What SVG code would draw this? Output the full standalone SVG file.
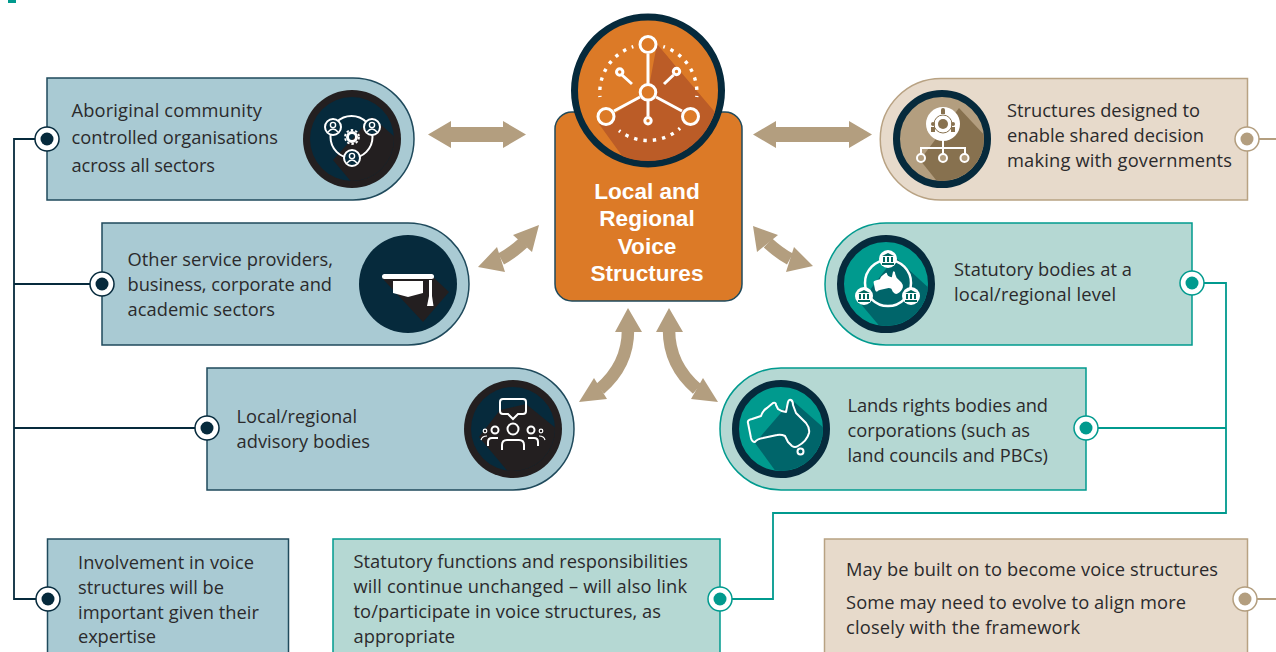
<svg xmlns="http://www.w3.org/2000/svg" width="1276" height="652" viewBox="0 0 1276 652">
<style>
text{font-family:"Open Sans","Noto Sans","Liberation Sans",sans-serif;font-size:18.3px;fill:#2b2a2c}
text.ct{font-family:"Liberation Sans",Arial,sans-serif;font-weight:700;font-size:22.6px;fill:#fff;text-anchor:middle}
.blue{fill:#a9cad3;stroke:#1f4a5c;stroke-width:1.5}
.teal{fill:#b5d8d3;stroke:#009a8e;stroke-width:1.5}
.tan{fill:#e7dacb;stroke:#b8a283;stroke-width:1.5}
.cn{fill:none;stroke-width:1.8}
.cd{stroke:#062a3c}.ct2{stroke:#009a8e}.cb{stroke:#b39e7f}
.w{fill:none;stroke:#fff;stroke-width:2}
.wf{fill:#fff}
.arr{fill:#b39e7f}
.as{fill:none;stroke:#b39e7f;stroke-width:12.500}
.ring{fill:#fff;stroke-width:1.500}
.dots{fill:none;stroke:#fff;stroke-width:3.400;stroke-dasharray:3.400 6;stroke-dashoffset:1.700}
</style>
<defs>
<clipPath id="c1"><circle cx="352" cy="139" r="42"/></clipPath>
<clipPath id="c2"><circle cx="408" cy="284" r="49"/></clipPath>
<clipPath id="c3"><circle cx="513" cy="429" r="42"/></clipPath>
<clipPath id="c4"><circle cx="942" cy="139" r="42"/></clipPath>
<clipPath id="c5"><circle cx="886" cy="284" r="42"/></clipPath>
<clipPath id="c6"><circle cx="781" cy="429" r="42"/></clipPath>
<clipPath id="c7"><circle cx="648" cy="91" r="70"/></clipPath>
<path id="aus" d="M748 423 Q747 420 752 419 L761 416 Q763 410 767 408 L773 403 Q776 402 776 405 L778 409 Q782 412 786 412 L788 402 Q789 399 791 400 Q793 401 793 405 L796 413 L806 423 Q810 428 809 433 Q807 441 798 446 Q795 448 792 446 L788 442 L785 436 Q781 434 777 435 L763 438 Q757 439 755 442 Q752 442 751 438 L750 433 Z"/>
<g id="bank"><circle r="9" fill="#fff"/><path d="M-6 -3 L0 -6 L6 -3 Z M-6 4 H6 V6 H-6 Z M-5 -2 H-3 V3 H-5 Z M-1 -2 H1 V3 H-1 Z M3 -2 H5 V3 H3 Z" fill="#00665f"/></g>
<g id="person"><circle r="8" fill="#062a3c" stroke="#fff" stroke-width="2"/><circle cy="-2" r="2.600" fill="none" stroke="#fff" stroke-width="1.400"/><path d="M-5 5 Q0 -1 5 5" fill="none" stroke="#fff" stroke-width="1.400"/></g>
</defs>

<rect x="8" y="0" width="8" height="3" fill="#009a8e"/>

<g id="connectors">
<path class="cn cd" d="M47 139 H14 V599 H48 M14 284 H102 M14 428 H207"/>
<path class="cn ct2" d="M1192 283 H1226 V513 H773 V599 H720 M1086 428 H1226"/>
<path class="cn cb" d="M1247 139 H1276 M1245 599 H1276"/>
<g id="arrows">
<path class="arr" d="M428 134.500 L451 121 V127 H503 V121 L526 134.500 L503 148 V142 H451 V148 Z"/>
<path class="arr" d="M753 134.500 L776 121 V127 H849 V121 L872 134.500 L849 148 V142 H776 V148 Z"/>
<path class="as" d="M523 243 Q512 253 501 259"/><path class="arr" d="M539 225 L532 252 L513 235 Z M478 267 L497 247 L505 272 Z"/>
<path class="as" d="M768 243 Q779 253 790 259"/><path class="arr" d="M753 226 L757 252 L778 235 Z M813 266 L794 247 L786 272 Z"/>
<path class="as" d="M628 330 Q628 365 600 389"/><path class="arr" d="M628 308 L642 332 H615 Z M579 402 L594 378 L607 399 Z"/>
<path class="as" d="M669 330 Q669 365 697 389"/><path class="arr" d="M669 308 L683 332 H656 Z M718 402 L703 378 L691 399 Z"/>
</g>
</g>

<g id="node-centre">
<rect x="555" y="112" width="187" height="189" rx="17" fill="#dc7a27" stroke="#1f4a5c" stroke-width="1.500"/>
<circle cx="648" cy="90.500" r="73.500" fill="#dc7a27" stroke="#062a3c" stroke-width="7"/>
<path clip-path="url(#c7)" d="M657 44 L720 118 L720 170 L625 160 L599 124 L648 92 Z" fill="#bb5c27"/>
<path d="M661 47 L676 66 M666 47 L680 68" stroke="#dc7a27" stroke-width="1" fill="none"/>
<g fill="none" stroke="#fff" stroke-width="3">
<path d="M648 54 V84 M648 100 V116 M640 97 L614 111 M656 97 L682 111 M622 75 L632 84 M673.500 75 L664 84"/>
<circle cx="648" cy="44.500" r="8" fill="#dc7a27"/><circle cx="606" cy="116.500" r="8" fill="#dc7a27"/><circle cx="690.500" cy="116.500" r="8" fill="#dc7a27"/><circle cx="648" cy="92.300" r="7.800" fill="#dc7a27"/>
<circle cx="648" cy="120.700" r="3.200" fill="#dc7a27"/><circle cx="619.700" cy="72" r="3.200" fill="#dc7a27"/><circle cx="676.500" cy="71.500" r="3.200" fill="#dc7a27"/>
</g>
<path class="dots" d="M633.300 46.700 A48 48 0 0 0 600 97"/>
<path class="dots" d="M663.300 46.700 A48 48 0 0 1 696.700 97"/>
<path class="dots" d="M619 130.700 A48 48 0 0 0 680 128.300"/>
<text class="ct" x="647" y="199">Local and</text>
<text class="ct" x="647" y="226">Regional</text>
<text class="ct" x="647" y="254">Voice</text>
<text class="ct" x="647" y="281">Structures</text>
</g>

<g id="node-aboriginal">
<path class="blue" d="M47 78 H353 A61 61 0 0 1 353 200 H47 Z"/>
<circle cx="352" cy="139" r="49" fill="#231f20"/><circle cx="352" cy="139" r="42" fill="#062a3c"/>
<path clip-path="url(#c1)" d="M372 117 L396 138 V190 H358 L333 160 Z" fill="#231f20"/>
<circle class="w" cx="351.500" cy="137" r="21"/>
<use href="#person" x="333" y="127"/><use href="#person" x="372" y="127"/><use href="#person" x="352" y="158"/>
<circle cx="352" cy="137" r="4.500" fill="none" stroke="#fff" stroke-width="3"/><circle cx="352" cy="137" r="7" fill="none" stroke="#fff" stroke-width="1.800" stroke-dasharray="2.500 2"/>
<text x="71.500" y="117" textLength="190.500">Aboriginal community</text>
<text x="71.500" y="144" textLength="206.500">controlled organisations</text>
<text x="71.500" y="172" textLength="143.500">across all sectors</text>
<circle class="ring cd" cx="47" cy="139" r="12"/><circle cx="47" cy="139" r="6.500" fill="#062a3c"/>
</g>

<g id="node-service">
<path class="blue" d="M102 223 H408 A61 61 0 0 1 408 345 H102 Z"/>
<circle cx="408" cy="284" r="49" fill="#062a3c"/>
<path clip-path="url(#c2)" d="M382 278 L423 322 L449 292 L433 277 Z" fill="#231f20"/>
<rect x="382" y="274" width="52" height="5" rx="2.500" class="wf"/>
<path class="wf" d="M393 281 H423 V293 L408 297 L393 293 Z M429 280 H432 V296 L433.500 306 H427 L429 296 Z"/>
<text x="127.500" y="266" textLength="205.500">Other service providers,</text>
<text x="127.500" y="291" textLength="204.500">business, corporate and</text>
<text x="127.500" y="316" textLength="147.500">academic sectors</text>
<circle class="ring cd" cx="102" cy="284" r="12"/><circle cx="102" cy="284" r="6.500" fill="#062a3c"/>
</g>

<g id="node-advisory">
<path class="blue" d="M207 368 H513 A61 61 0 0 1 513 490 H207 Z"/>
<circle cx="513" cy="429" r="49" fill="#231f20"/><circle cx="513" cy="429" r="42" fill="#062a3c"/>
<path clip-path="url(#c3)" d="M526 404 L558 430 V480 H515 L479 437 L500 410 Z" fill="#231f20"/>
<path class="w" d="M503 399 H523 Q526 399 526 402 V411 Q526 414 523 414 H518 L513 419 L508 414 H503 Q500 414 500 411 V402 Q500 399 503 399 Z"/>
<circle class="w" cx="513" cy="429" r="5.500"/><path class="w" d="M502 450 V445 Q502 440 507 440 H519 Q524 440 524 445 V450"/>
<circle class="w" cx="495" cy="430" r="3.500"/><circle class="w" cx="531" cy="430" r="3.500"/>
<path class="w" d="M488 446 V442 Q488 438 492 438 H498 M538 446 V442 Q538 438 534 438 H528"/>
<circle cx="485" cy="431" r="1.800" fill="none" stroke="#fff" stroke-width="1.200"/><circle cx="541" cy="431" r="1.800" fill="none" stroke="#fff" stroke-width="1.200"/>
<path d="M481 440 Q482 436 487 436 M545 440 Q544 436 539 436" fill="none" stroke="#fff" stroke-width="1.200"/>
<text x="236.500" y="423" textLength="120.500">Local/regional</text>
<text x="236.500" y="448" textLength="133.500">advisory bodies</text>
<circle class="ring cd" cx="207" cy="428" r="12"/><circle cx="207" cy="428" r="6.500" fill="#062a3c"/>
</g>

<g id="node-involvement">
<rect class="blue" x="47.500" y="539" width="241" height="125"/>
<text x="78" y="569" textLength="176">Involvement in voice</text>
<text x="78" y="594" textLength="146">structures will be</text>
<text x="78" y="619" textLength="181">important given their</text>
<text x="78" y="643" textLength="78">expertise</text>
<circle class="ring cd" cx="48" cy="599" r="12"/><circle cx="48" cy="599" r="6.500" fill="#062a3c"/>
</g>

<g id="node-statutory-functions">
<rect class="teal" x="333" y="539" width="387" height="125"/>
<text x="353.500" y="568" textLength="334.500">Statutory functions and responsibilities</text>
<text x="353.500" y="593" textLength="333.500">will continue unchanged – will also link</text>
<text x="353.500" y="618" textLength="307.500">to/participate in voice structures, as</text>
<text x="353.500" y="643" textLength="101.500">appropriate</text>
<circle class="ring ct2" cx="720" cy="599" r="12"/><circle cx="720" cy="599" r="6.500" fill="#009a8e"/>
</g>

<g id="node-shared">
<path class="tan" d="M1247.500 78.500 H941 A60.750 60.750 0 0 0 941 200 H1247.500 Z"/>
<circle cx="942" cy="139" r="45.500" fill="#b39e7f" stroke="#062a3c" stroke-width="7"/>
<path clip-path="url(#c4)" d="M959 108 L986 137 V190 H944 L920 160 Z" fill="#87714f"/>
<circle cx="943" cy="124" r="17" class="wf"/>
<circle cx="943" cy="124" r="5" fill="#87714f"/><circle cx="943" cy="124" r="9" fill="none" stroke="#87714f" stroke-width="1"/>
<path d="M943 110 V114 M933 127 V132 M953 127 V132" stroke="#87714f" stroke-width="4"/><circle cx="943" cy="110" r="2" fill="#87714f"/><circle cx="933" cy="124" r="2" fill="#87714f"/><circle cx="953" cy="124" r="2" fill="#87714f"/>
<path class="w" d="M943 140 V154 M921 154 V148 H965 V154"/>
<circle cx="921" cy="158" r="4" fill="#b39e7f" stroke="#fff" stroke-width="2"/><circle cx="943" cy="158" r="4" fill="#b39e7f" stroke="#fff" stroke-width="2"/><circle cx="964.500" cy="158" r="4" fill="#b39e7f" stroke="#fff" stroke-width="2"/>
<text x="1007" y="117" textLength="193">Structures designed to</text>
<text x="1007" y="142" textLength="197">enable shared decision</text>
<text x="1007" y="167" textLength="225">making with governments</text>
<circle class="ring cb" cx="1247" cy="139" r="12"/><circle cx="1247" cy="139" r="6.500" fill="#b39e7f"/>
</g>

<g id="node-statutory-bodies">
<path class="teal" d="M1192 223 H886 A61 61 0 0 0 886 345 H1192 Z"/>
<circle cx="886" cy="284" r="45.500" fill="#009a8e" stroke="#062a3c" stroke-width="7"/>
<path clip-path="url(#c5)" d="M895 257 L930 289 V335 H887 L860 303 Z" fill="#00656a"/>
<circle cx="888" cy="283" r="23" fill="none" stroke="#fff" stroke-width="2.500"/>
<use href="#bank" x="888" y="259"/><use href="#bank" x="864" y="296"/><use href="#bank" x="911" y="296"/>
<use href="#aus" transform="translate(888 283) scale(.48) translate(-778 -424)" fill="#fff"/>
<text x="954" y="276" textLength="178">Statutory bodies at a</text>
<text x="954" y="301" textLength="162">local/regional level</text>
<circle class="ring ct2" cx="1192" cy="283" r="12"/><circle cx="1192" cy="283" r="6.500" fill="#009a8e"/>
</g>

<g id="node-lands">
<path class="teal" d="M1086 368 H781 A61 61 0 0 0 781 490 H1086 Z"/>
<circle cx="781" cy="429" r="45.500" fill="#009a8e" stroke="#062a3c" stroke-width="7"/>
<path clip-path="url(#c6)" d="M792 400 L826 430 V480 H782 L755 443 Z" fill="#00656a"/>
<use href="#aus" class="w" stroke-linejoin="round"/>
<circle cx="800.500" cy="451.500" r="3" class="w"/>
<text x="847.500" y="412" textLength="200.500">Lands rights bodies and</text>
<text x="847.500" y="437" textLength="182.500">corporations (such as</text>
<text x="847.500" y="462" textLength="200.500">land councils and PBCs)</text>
<circle class="ring ct2" cx="1086" cy="428" r="12"/><circle cx="1086" cy="428" r="6.500" fill="#009a8e"/>
</g>

<g id="node-may-be-built">
<rect class="tan" x="824.500" y="539" width="423" height="125"/>
<text x="846" y="576" textLength="372">May be built on to become voice structures</text>
<text x="846" y="609" textLength="340">Some may need to evolve to align more</text>
<text x="846" y="634" textLength="234">closely with the framework</text>
<circle class="ring cb" cx="1245" cy="599" r="12"/><circle cx="1245" cy="599" r="6.500" fill="#b39e7f"/>
</g>
</svg>
